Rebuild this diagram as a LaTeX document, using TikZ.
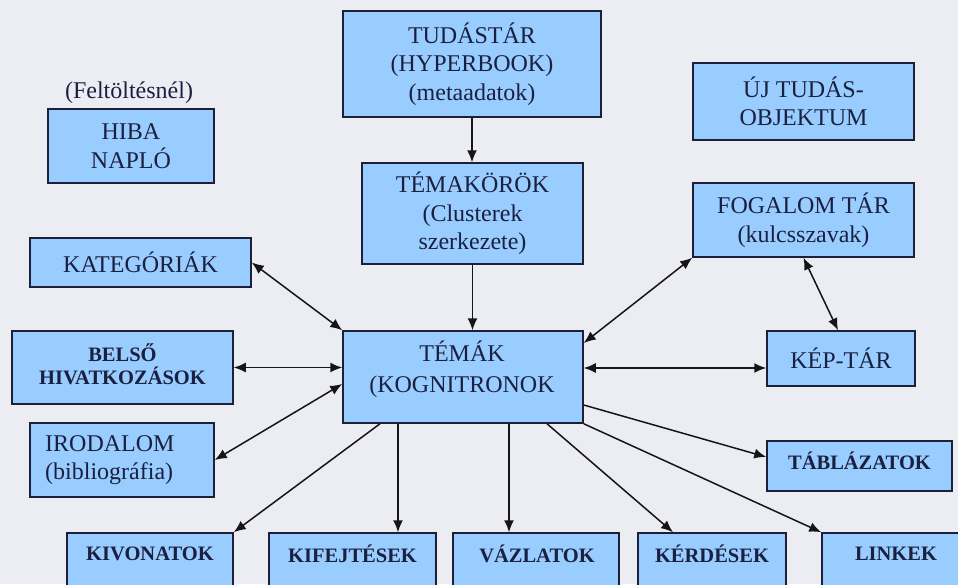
\documentclass[tikz,border=0pt]{standalone}
\usepackage{fontspec}
\setmainfont{Liberation Serif}
\usetikzlibrary{arrows.meta}
\definecolor{bgc}{HTML}{ECECF3}
\definecolor{boxc}{HTML}{99CCFF}
\definecolor{bordc}{HTML}{1C1F38}
\definecolor{txtc}{HTML}{1A2040}
\definecolor{arrc}{HTML}{151515}
\tikzset{
  box/.style={draw=bordc, fill=boxc, line width=1.5pt, inner sep=0pt, text=txtc, align=center,
    font=\fontsize{24}{28.5}\selectfont},
  boldtxt/.style={text=txtc, align=center, inner sep=0pt, font=\fontsize{20.5}{23.5}\selectfont\bfseries},
  plaintxt/.style={text=txtc, inner sep=0pt, font=\fontsize{24}{28.5}\selectfont},
  conn/.style={draw=arrc, line width=1.5pt, -{Latex[length=12pt,width=10pt]}},
  biconn/.style={draw=arrc, line width=1.5pt, {Latex[length=12pt,width=10pt]}-{Latex[length=12pt,width=10pt]}},
}
\begin{document}
\begin{tikzpicture}[x=1pt,y=-1pt]
\useasboundingbox (0,0) rectangle (958,584);
\clip (0,0) rectangle (958,584);
\fill[bgc] (0,0) rectangle (958,584);

% boxes
\node[box, minimum width=258pt, minimum height=106pt] (tudastar) at (472,64) {TUDÁSTÁR\\(HYPERBOOK)\\(metaadatok)};
\node[plaintxt] (felt) at (129,93) {(Feltöltésnél)};
\node[box, minimum width=166pt, minimum height=74pt] (hiba) at (131,146) {HIBA\\NAPLÓ};
\node[box, minimum width=221pt, minimum height=77pt] (uj) at (803.5,101.5) {ÚJ TUDÁS-\\OBJEKTUM};
\node[box, minimum width=221pt, minimum height=101pt] (temakorok) at (472.5,213.5) {TÉMAKÖRÖK\\(Clusterek\\szerkezete)};
\node[box, minimum width=221pt, minimum height=74pt] (fogalom) at (803.5,220) {FOGALOM TÁR\\(kulcsszavak)};
\node[box, minimum width=221pt, minimum height=49pt] (kategoriak) at (140.5,262.5) {KATEGÓRIÁK};
\node[box, minimum width=221pt, minimum height=73pt] (belso) at (122.5,367.5) {};
\node[boldtxt] (belsot) at (122.5,364) {BELSŐ\\HIVATKOZÁSOK};
\node[box, minimum width=184pt, minimum height=74pt] (irodalom) at (122,460) {};
\node[plaintxt, align=left, anchor=west] (irodalomt) at (45,460) {IRODALOM\\(bibliográfia)};
\node[box, minimum width=240pt, minimum height=92pt] (temak) at (463,377) {};
\node[plaintxt, align=center, font=\fontsize{24}{31}\selectfont] (temakt) at (462,369) {TÉMÁK\\(KOGNITRONOK};
\node[box, minimum width=148pt, minimum height=55pt] (keptar) at (841,358.5) {KÉP-TÁR};
\node[box, minimum width=185pt, minimum height=50pt] (tablazatok) at (859.5,466) {};
\node[boldtxt] (tablazatokt) at (859.5,461) {TÁBLÁZATOK};

\node[box, minimum width=166pt, minimum height=77pt] (kivonatok) at (150,571.5) {};
\node[boldtxt] (kivonatokt) at (150,554) {KIVONATOK};
\node[box, minimum width=167pt, minimum height=77pt] (kifejtesek) at (352.5,571.5) {};
\node[boldtxt] (kifejtesekt) at (352.5,554) {KIFEJTÉSEK};
\node[box, minimum width=166pt, minimum height=77pt] (vazlatok) at (536,571.5) {};
\node[boldtxt] (vazlatokt) at (537,554) {VÁZLATOK};
\node[box, minimum width=148pt, minimum height=77pt] (kerdesek) at (712,571.5) {};
\node[boldtxt] (kerdesekt) at (712,554) {KÉRDÉSEK};
\node[box, minimum width=148pt, minimum height=77pt] (linkek) at (896,571.5) {};
\node[boldtxt] (linkekt) at (896,554) {LINKEK};

% connectors
\draw[conn] (tudastar.south) -- (tudastar.south |- temakorok.north);
\draw[conn] (temakorok.south) -- (temakorok.south |- temak.north);
\draw[biconn] (kategoriak.east) -- (temak.north west);
\draw[biconn] (belso.east) -- (belso.east -| temak.west);
\draw[biconn] (irodalom.east) -- ([yshift=-7pt]temak.west);
\draw[conn] ([xshift=-83pt]temak.south) -- (kivonatok.north east);
\draw[conn] ([xshift=-65pt]temak.south) -- ([xshift=-65pt]temak.south |- kifejtesek.north);
\draw[conn] ([xshift=46pt]temak.south) -- ([xshift=46pt]temak.south |- vazlatok.north);
\draw[conn] ([xshift=84pt]temak.south) -- ([xshift=-39pt]kerdesek.north);
\draw[conn] (temak.south east) -- (linkek.north west);
\draw[conn] ([yshift=-28pt]temak.east) -- ([yshift=9pt]tablazatok.west);
\draw[biconn] ([yshift=9pt]temak.east) -- ([yshift=9pt]temak.east -| keptar.west);
\draw[biconn] ([yshift=34pt]temak.east) -- (fogalom.south west);
\draw[biconn] (fogalom.south) -- ([xshift=-3pt]keptar.north);
\end{tikzpicture}
\end{document}
